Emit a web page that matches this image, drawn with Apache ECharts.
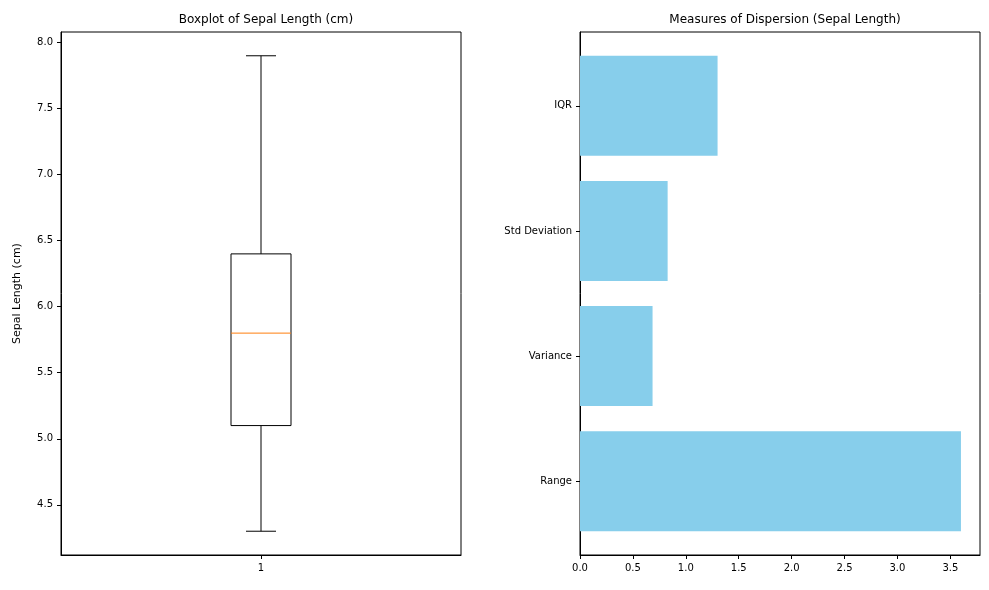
<!DOCTYPE html>
<html><head><meta charset="utf-8">
<script src="https://cdn.jsdelivr.net/npm/echarts@6/dist/echarts.min.js"></script>
<style>body{margin:0}#c{width:989px;height:590px}</style></head>
<body><div id="c"></div>
<script>
// five-number summary of sepal length
const boxStats = [4.3, 5.1, 5.8, 6.4, 7.9];
const boxTicks = [4.5, 5.0, 5.5, 6.0, 6.5, 7.0, 7.5, 8.0];
const measureNames = ['Range', 'Variance', 'Std Deviation', 'IQR'];
const measureValues = [3.6, 0.6857, 0.8281, 1.3];
const xTicks = [0, 0.5, 1, 1.5, 2, 2.5, 3, 3.5];

const font = 'DejaVu Sans';
const axisCommon = {
  axisLine: {show: true, onZero: false, lineStyle: {color: '#000'}},
  axisTick: {show: true, inside: false, length: 4, lineStyle: {color: '#000'}},
  axisLabel: {color: '#000', fontFamily: font, fontSize: 10},
  splitLine: {show: false}
};
const line = (a, b, c, d, color) => ({type: 'line', shape: {x1: a, y1: b, x2: c, y2: d}, style: {stroke: color || '#000', lineWidth: 1}});

const chart = echarts.init(document.getElementById('c'));
chart.setOption({
  animation: false,
  title: [
    {text: 'Boxplot of Sepal Length (cm)', left: 261, top: 9, textAlign: 'center', textStyle: {fontFamily: font, fontSize: 12, fontWeight: 'normal', color: '#000'}},
    {text: 'Measures of Dispersion (Sepal Length)', left: 780, top: 9, textAlign: 'center', textStyle: {fontFamily: font, fontSize: 12, fontWeight: 'normal', color: '#000'}}
  ],
  grid: [
    {left: 61, top: 32, width: 400, height: 523, show: true, borderColor: '#000', borderWidth: 1},
    {left: 580, top: 32, width: 400, height: 523, show: true, borderColor: '#000', borderWidth: 1}
  ],
  xAxis: [
    Object.assign({}, axisCommon, {gridIndex: 0, type: 'value', min: 0.5, max: 1.5,
      axisLabel: Object.assign({}, axisCommon.axisLabel, {customValues: [1]}), axisTick: Object.assign({}, axisCommon.axisTick, {customValues: [1]})}),
    Object.assign({}, axisCommon, {gridIndex: 1, type: 'value', min: 0, max: 3.78,
      axisLabel: Object.assign({}, axisCommon.axisLabel, {customValues: xTicks, formatter: v => v.toFixed(1)}), axisTick: Object.assign({}, axisCommon.axisTick, {customValues: xTicks})})
  ],
  yAxis: [
    Object.assign({}, axisCommon, {gridIndex: 0, type: 'value', min: 4.12, max: 8.08,
      name: 'Sepal Length (cm)', nameLocation: 'middle', nameGap: 38, nameTextStyle: {fontFamily: font, fontSize: 11, color: '#000'},
      axisLabel: Object.assign({}, axisCommon.axisLabel, {customValues: boxTicks, formatter: v => v.toFixed(1)}), axisTick: Object.assign({}, axisCommon.axisTick, {customValues: boxTicks})}),
    Object.assign({}, axisCommon, {gridIndex: 1, type: 'value', min: -0.59, max: 3.59,
      axisLabel: Object.assign({}, axisCommon.axisLabel, {customValues: [0, 1, 2, 3], formatter: v => measureNames[Math.round(v)]}), axisTick: Object.assign({}, axisCommon.axisTick, {customValues: [0, 1, 2, 3]})})
  ],
  series: [
    {
      type: 'custom', xAxisIndex: 0, yAxisIndex: 0,
      data: [[1].concat(boxStats)],
      renderItem: (params, api) => {
        const x = api.value(0);
        const p = i => api.coord([x, api.value(i)]);
        const half = api.size([0.075, 0])[0];
        const cap = api.size([0.0375, 0])[0];
        const lo = p(1), q1 = p(2), med = p(3), q3 = p(4), hi = p(5);
        return {type: 'group', children: [
          {type: 'rect', shape: {x: q3[0] - half, y: q3[1], width: half * 2, height: q1[1] - q3[1]}, style: {fill: 'none', stroke: '#000', lineWidth: 1}},
          line(lo[0], lo[1], q1[0], q1[1]),
          line(hi[0], hi[1], q3[0], q3[1]),
          line(lo[0] - cap, lo[1], lo[0] + cap, lo[1]),
          line(hi[0] - cap, hi[1], hi[0] + cap, hi[1]),
          line(med[0] - half, med[1], med[0] + half, med[1], '#ff7f0e')
        ]};
      }
    },
    {
      type: 'custom', xAxisIndex: 1, yAxisIndex: 1,
      data: measureValues.map((v, i) => [v, i]),
      renderItem: (params, api) => {
        const top = api.coord([0, api.value(1) + 0.4]);
        const end = api.coord([api.value(0), api.value(1) - 0.4]);
        return {type: 'rect', shape: {x: top[0], y: top[1], width: end[0] - top[0], height: end[1] - top[1]}, style: {fill: '#87ceeb'}};
      }
    }
  ]
});
</script></body></html>
